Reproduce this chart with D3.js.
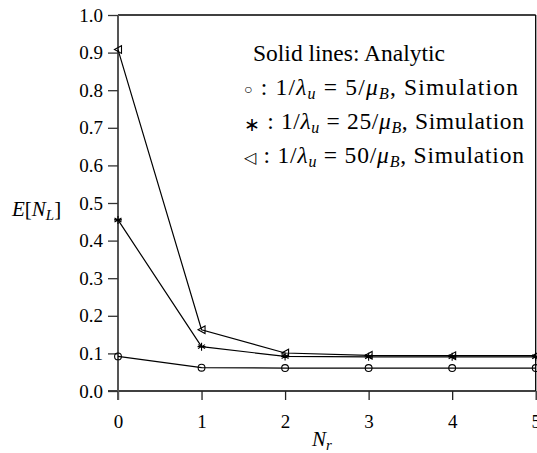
<!DOCTYPE html>
<head>
  <meta charset="utf-8">
  <script src="https://d3js.org/d3.v7.min.js"></script>
  <style>
    body { margin:0; background:#fff; }
    svg { display:block; }
    .line { fill:none; stroke:#000; stroke-width:1.2; }
    .mark { fill:none; stroke:#000; stroke-width:1.1; }
  </style>
</head>

<body>
  <script>
  // ---------- data ---------------
    var nr = [0, 1, 2, 3, 4, 5];
    var sim5  = [0.092, 0.062, 0.061, 0.061, 0.061, 0.061];
    var sim25 = [0.455, 0.118, 0.092, 0.091, 0.091, 0.091];
    var sim50 = [0.908, 0.163, 0.101, 0.095, 0.094, 0.094];
    var yTicks = [0, 0.1, 0.2, 0.3, 0.4, 0.5, 0.6, 0.7, 0.8, 0.9, 1.0];
    var legendRows = [
      {sym: "\u25CB", symSize: 14, symDy: -1, val: "5"},
      {sym: "\u2217", symSize: 19, symDy: 2, val: "25"},
      {sym: "\u25C1", symSize: 16, symDy: 0, val: "50"}
    ];

    var FONT = "Liberation Serif, serif";
    var W = 537, H = 453;
    var margin = {top: 15, right: 1.3, bottom: 62, left: 118};

    var svg = d3.select("body").append("svg")
      .attr("width", W)
      .attr("height", H);

    var x = d3.scaleLinear().domain([0, 5]).range([margin.left, W - margin.right]);
    var y = d3.scaleLinear().domain([0, 1]).range([H - margin.bottom, margin.top]);

    function txt(sel, px, py, size) {
      return sel.append("text").attr("x", px).attr("y", py)
        .attr("font-family", FONT).attr("font-size", size).attr("fill", "#000");
    }

  // ---------- frame: top and right border ----------
    svg.append("line")
      .attr("x1", x(0)).attr("x2", x(5))
      .attr("y1", y(1)).attr("y2", y(1))
      .attr("stroke", "#000").attr("stroke-width", 1.3);
    svg.append("line")
      .attr("x1", x(5)).attr("x2", x(5))
      .attr("y1", y(1)).attr("y2", y(0))
      .attr("stroke", "#000").attr("stroke-width", 1.3);

  // ---------- axes ----------
    var xAxis = svg.append("g")
      .attr("transform", "translate(0," + y(0) + ")")
      .call(d3.axisBottom(x).tickValues(nr).tickSize(9).tickPadding(15).tickFormat(d3.format("d")));
    xAxis.attr("font-family", FONT).attr("font-size", 19);
    xAxis.select(".domain").attr("stroke", "#000").attr("stroke-width", 1.5)
      .attr("d", "M" + (x(0) - 10) + ",0H" + x(5));
    xAxis.selectAll(".tick line").attr("stroke", "#222").attr("stroke-width", 1.3);
    xAxis.selectAll(".tick text").attr("font-family", FONT).attr("font-size", 19).attr("fill", "#000");

    var yAxis = svg.append("g")
      .attr("transform", "translate(" + x(0) + ",0)")
      .call(d3.axisLeft(y).tickValues(yTicks).tickSize(10).tickPadding(5).tickFormat(d3.format(".1f")));
    yAxis.attr("font-family", FONT).attr("font-size", 19);
    yAxis.select(".domain").attr("stroke", "#555").attr("stroke-width", 2)
      .attr("d", "M0," + y(1) + "V" + (y(0) + 9));
    yAxis.selectAll(".tick line").attr("stroke", "#333").attr("stroke-width", 1.3);
    yAxis.selectAll(".tick text").attr("font-family", FONT).attr("font-size", 19).attr("fill", "#000");

  // ---------- axis titles ----------
    var yl = txt(svg, 12, 216, 21);
    yl.append("tspan").attr("font-style", "italic").text("E");
    yl.append("tspan").text("[");
    yl.append("tspan").attr("font-style", "italic").text("N");
    yl.append("tspan").attr("font-style", "italic").attr("font-size", 15).attr("dy", 4).text("L");
    yl.append("tspan").attr("dy", -4).text("]");

    var xl = txt(svg, 312, 446, 21);
    xl.append("tspan").attr("font-style", "italic").text("N");
    xl.append("tspan").attr("font-style", "italic").attr("font-size", 15).attr("dy", 4).text("r");

  // ---------- series ----------
    var line = d3.line().x(function(d, i) { return x(nr[i]); }).y(function(d) { return y(d); });
    [sim5, sim25, sim50].forEach(function(s) {
      svg.append("path").datum(s).attr("class", "line").attr("d", line);
    });

    svg.selectAll(".c5").data(sim5).enter().append("circle")
      .attr("class", "mark")
      .attr("cx", function(d, i) { return x(nr[i]); })
      .attr("cy", function(d) { return y(d); })
      .attr("r", 3.4);

    var star = "M0,-4V4M-3.5,-2L3.5,2M-3.5,2L3.5,-2M-4,0H4";
    svg.selectAll(".s25").data(sim25).enter().append("path")
      .attr("class", "mark")
      .attr("transform", function(d, i) { return "translate(" + x(nr[i]) + "," + y(d) + ")"; })
      .attr("d", star);

    svg.selectAll(".t50").data(sim50).enter().append("path")
      .attr("class", "mark")
      .attr("transform", function(d, i) { return "translate(" + x(nr[i]) + "," + y(d) + ")"; })
      .attr("d", "M-3.5,0L3.5,-3.8L3.5,3.8Z");

  // ---------- legend ----------
    var lg = svg.append("g");
    txt(lg, 253, 61, 23.5).text("Solid lines: Analytic");
    legendRows.forEach(function(r, i) {
      var by = 95 + i * 34;
      var t = txt(lg, 244, by, 23.5)
        .attr("textLength", r.val.length > 1 ? 280 : 274)
        .attr("lengthAdjust", "spacing");
      t.append("tspan").attr("font-size", r.symSize).attr("dy", r.symDy).text(r.sym);
      t.append("tspan").attr("dy", -r.symDy).text(" : 1/");
      t.append("tspan").attr("font-style", "italic").text("\u03BB");
      t.append("tspan").attr("font-style", "italic").attr("font-size", 16).attr("dy", 4).text("u");
      t.append("tspan").attr("dy", -4).text(" = " + r.val + "/");
      t.append("tspan").attr("font-style", "italic").text("\u03BC");
      t.append("tspan").attr("font-style", "italic").attr("font-size", 16).attr("dy", 4).text("B");
      t.append("tspan").attr("dy", -4).text(", Simulation");
    });
  </script>
</body>
